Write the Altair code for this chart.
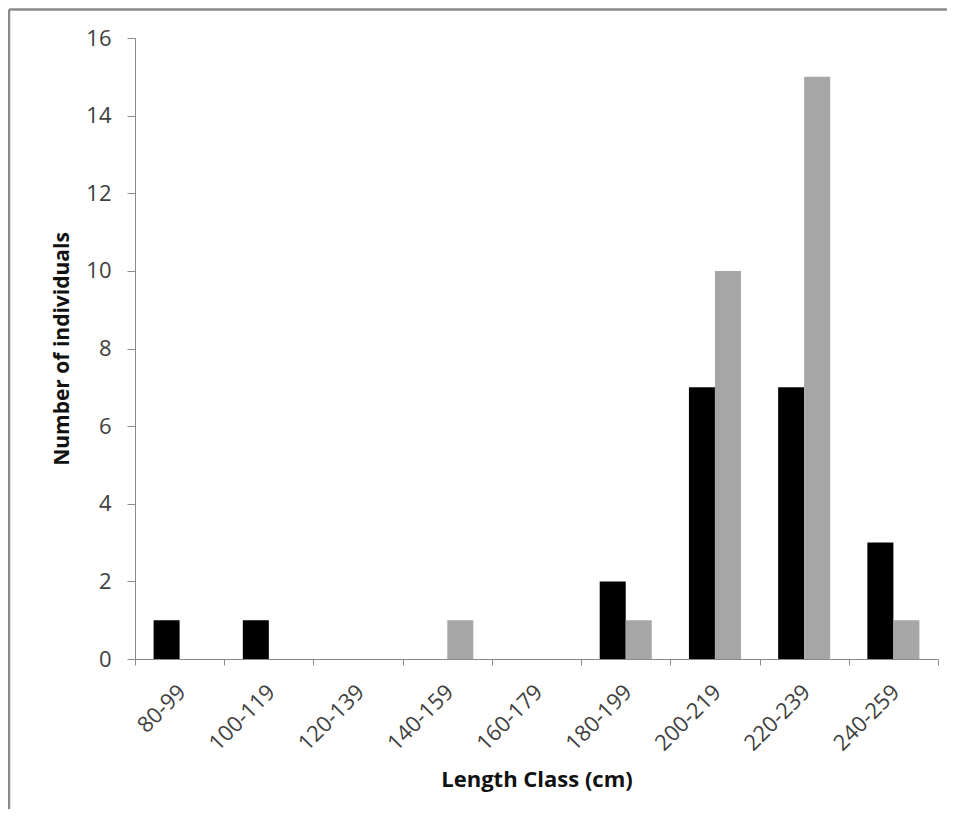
import altair as alt
import pandas as pd

classes = ["80-99", "100-119", "120-139", "140-159", "160-179",
           "180-199", "200-219", "220-239", "240-259"]
series_names = ["Series 1", "Series 2"]
series_1 = [1, 1, 0, 0, 0, 2, 7, 7, 3]
series_2 = [0, 0, 0, 1, 0, 1, 10, 15, 1]
y_ticks = [0, 2, 4, 6, 8, 10, 12, 14, 16]
bar_colors = ["#000000", "#a6a6a6"]

rows = []
for c, a, b in zip(classes, series_1, series_2):
    rows.append({"cls": c, "series": series_names[0], "n": a})
    rows.append({"cls": c, "series": series_names[1], "n": b})
df = pd.DataFrame(rows)

FONT = "Open Sans"

bars = alt.Chart(df).mark_bar().encode(
    x=alt.X("cls:N", sort=classes,
            scale=alt.Scale(paddingInner=0, paddingOuter=0),
            axis=alt.Axis(title="Length Class (cm)", labelAngle=-45,
                          tickBand="extent", tickSize=6, labelPadding=16,
                          labelOffset=-5,
                          labelFontSize=22, labelColor="#404040", labelFont=FONT,
                          titleFontSize=22, titleFont=FONT, titleFontWeight="bold",
                          titleColor="#111111", titlePadding=15,
                          domainColor="#8a8a8a", tickColor="#8a8a8a")),
    xOffset=alt.XOffset("series:N", sort=series_names,
                        scale=alt.Scale(paddingInner=0, paddingOuter=0.715)),
    y=alt.Y("n:Q", scale=alt.Scale(domain=[0, 16], nice=False),
            axis=alt.Axis(title="Number of individuals", values=y_ticks, grid=False,
                          tickSize=8, labelPadding=16,
                          labelFontSize=22, labelColor="#404040", labelFont=FONT,
                          titleFontSize=21, titleFont=FONT, titleFontWeight="bold",
                          titleColor="#111111", titlePadding=13,
                          domainColor="#8a8a8a", tickColor="#8a8a8a")),
    color=alt.Color("series:N", scale=alt.Scale(domain=series_names, range=bar_colors),
                    legend=None),
)

frame_df = pd.DataFrame({"k": [0]})
top_line = alt.Chart(frame_df).mark_rule(color="#8a8a8a", strokeWidth=2.5).encode(
    x=alt.value(-126), x2=alt.value(812), y=alt.value(-28.5))
left_line = alt.Chart(frame_df).mark_rule(color="#8a8a8a", strokeWidth=2.5).encode(
    x=alt.value(-126), y=alt.value(-28.5), y2=alt.value(775))

chart = alt.layer(top_line, left_line, bars).properties(
    width=803, height=621,
    autosize=alt.AutoSizeParams(type="none"),
    padding={"left": 127, "top": 30, "right": 10, "bottom": 150},
).configure_view(stroke=None)

chart.save("out.html", embed_options={"renderer": "svg", "actions": False})
